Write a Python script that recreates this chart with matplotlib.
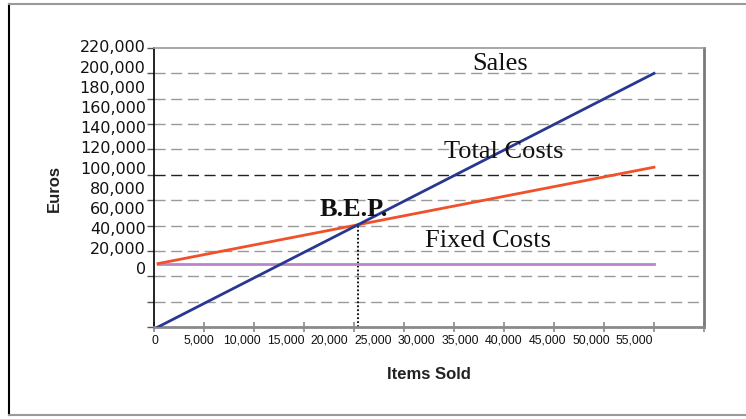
import numpy as np
import matplotlib
matplotlib.use("Agg")
import matplotlib.pyplot as plt
from matplotlib.lines import Line2D


# ── Data ───────────────────────────────────────────────────
items       = [400, 50000]
sales       = [0, 200000]
total_costs = [50000, 126000]
fixed_costs = [50000, 50000]

y_labels = ["220,000", "200,000", "180,000", "160,000", "140,000", "120,000",
            "100,000", "80,000", "60,000", "40,000", "20,000", "0"]
x_labels = ["0", "5,000", "10,000", "15,000", "20,000", "25,000", "30,000",
            "35,000", "40,000", "45,000", "50,000", "55,000"]


# ── Figure ─────────────────────────────────────────────────
W, H = 746, 419
fig = plt.figure(figsize=(W / 100, H / 100), dpi=100)
ax  = fig.add_axes([154 / W, 1 - 327 / H, 550 / W, 279 / H])

ax.set_xlim(0, 55000)
ax.set_ylim(0, 220000)

# gridlines (one of them drawn darker)
for g in range(20000, 220000, 20000):
    col = "#222222" if g == 120000 else "#9a9a9a"
    ax.axhline(g, color=col, lw=1.0, ls=(0, (8, 4)), zorder=1)

# lines
blue   = "#283891"
red    = "#f0502a"
purple = "#b886c8"
ax.plot(items, fixed_costs, color=purple, lw=2.0, zorder=3)
ax.plot(items, total_costs, color=red, lw=2.0, zorder=3)
ax.plot(items, sales, color=blue, lw=2.0, zorder=4)

# break-even point
s_slope = (sales[1] - sales[0]) / (items[1] - items[0])
t_slope = (total_costs[1] - total_costs[0]) / (items[1] - items[0])
bep_x   = items[0] + (total_costs[0] - sales[0]) / (s_slope - t_slope)
bep_y   = sales[0] + s_slope * (bep_x - items[0])
ax.plot([bep_x, bep_x], [0, bep_y], color="black", lw=1.3, ls=(0, (1, 1.2)),
        zorder=2)

# spines / ticks
ax.spines["left"].set_color("black")
ax.spines["left"].set_linewidth(1.2)
ax.spines["bottom"].set_color("#8a8a8a")
ax.spines["bottom"].set_linewidth(2.0)
ax.spines["top"].set_color("#9a9a9a")
ax.spines["top"].set_linewidth(1.2)
ax.spines["right"].set_color("#7a7a7a")
ax.spines["right"].set_linewidth(2.0)

ax.set_yticks(np.arange(0, 220001, 20000))
ax.set_yticklabels([])
ax.tick_params(axis="y", length=5, width=1, color="#555555", direction="out")
ax.set_xticks(np.arange(0, 55001, 5000))
ax.set_xticklabels([])
ax.tick_params(axis="x", length=7, width=1.2, color="#8a8a8a",
               direction="inout")

# squeezed tick labels
ytr = ax.get_yaxis_transform()
for lab, yv in zip(y_labels, np.linspace(220000, 45000, len(y_labels))):
    ax.text(-0.015, yv, lab, transform=ytr, ha="right", va="center",
            fontsize=11.5, family="DejaVu Sans", color="#111111")

xtr = ax.get_xaxis_transform()
for i, lab in enumerate(x_labels):
    ax.text(100 + i * 4360, -0.05, lab, transform=xtr, ha="center",
            va="center", fontsize=8.8, family="Liberation Sans",
            color="#111111")

# axis titles
fig.text(54 / W, 1 - 188 / H, "Euros", rotation=90, ha="center",
         va="center", fontsize=12, fontweight="bold",
         family="Liberation Sans", color="#222222")
fig.text(429 / W, 1 - 374 / H, "Items Sold", ha="center", va="center",
         fontsize=12, fontweight="bold", family="Liberation Sans",
         color="#222222")

# annotations
serif = dict(family="Liberation Serif", fontsize=19, color="#111111",
             ha="center", va="center", zorder=5)
ax.text(34600, 207000, "Sales", **serif)
ax.text(35000, 138000, "Total Costs", **serif)
ax.text(33400, 68000, "Fixed Costs", **serif)
ax.text(20000, 93000, "B.E.P.", fontweight="bold", **serif)

# outer frame
fig.add_artist(Line2D([9 / W, 9 / W], [1 - 4 / H, 1 - 415 / H],
                      transform=fig.transFigure, color="black", lw=1.5))
fig.add_artist(Line2D([9 / W, 1], [1 - 4 / H, 1 - 4 / H],
                      transform=fig.transFigure, color="#9a9a9a", lw=1.5))
fig.add_artist(Line2D([9 / W, 1], [1 - 415 / H, 1 - 415 / H],
                      transform=fig.transFigure, color="#9a9a9a", lw=1.5))

fig.savefig("out.png", dpi=100)
